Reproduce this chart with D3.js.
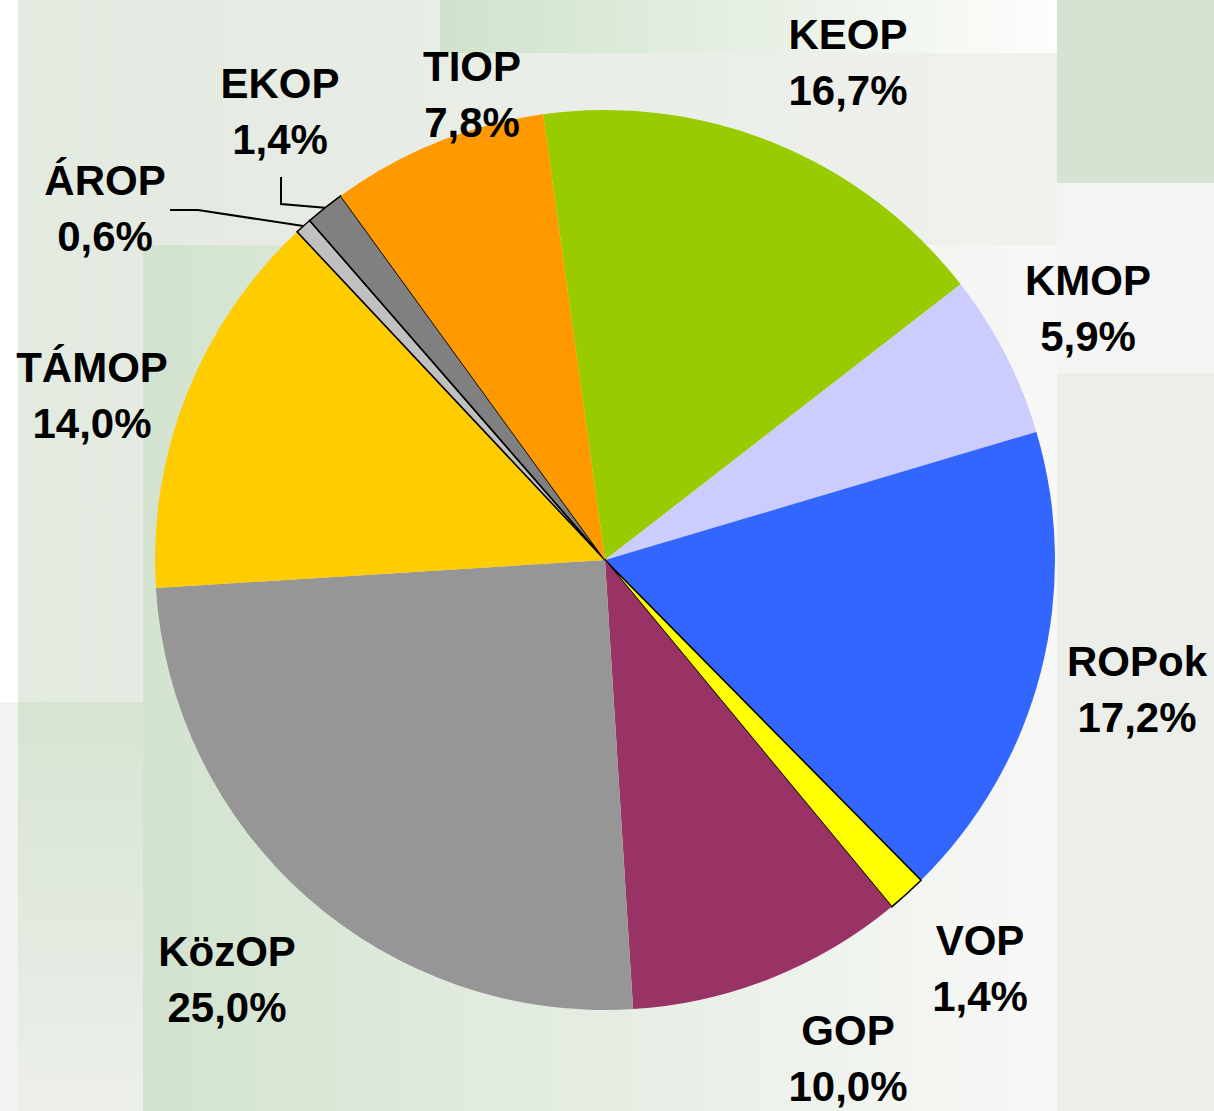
<!DOCTYPE html>
<html>
<head>
<meta charset="utf-8">
<script src="https://cdn.jsdelivr.net/npm/d3@7"></script>
<style>
  body { margin: 0; background: #fff; }
  svg { display: block; }
</style>
</head>
<body>
<div id="chart"></div>
<script>
// data, clockwise from the top
var names = ["KEOP", "KMOP", "ROPok", "VOP", "GOP", "KözOP", "TÁMOP", "ÁROP", "EKOP", "TIOP"];
var shares = [16.7, 5.9, 17.2, 1.4, 10.0, 25.0, 14.0, 0.6, 1.4, 7.8];
var colors = ["#99CC00", "#CCCCFF", "#3366FF", "#FFFF00", "#993366", "#969696", "#FFCC00", "#C0C0C0", "#808080", "#FF9900"];
var outlined = ["VOP", "ÁROP", "EKOP"];

// where the two-line labels sit (centre x, first baseline)
var labelPos = {
    "KEOP": [848, 49], "KMOP": [1088, 295], "ROPok": [1137, 676], "VOP": [980, 955],
    "GOP": [848, 1045], "KözOP": [227, 966], "TÁMOP": [92, 382], "ÁROP": [105, 195],
    "EKOP": [280, 98], "TIOP": [472, 81]
};

var w = 1214, h = 1111;
var cx = 605, cy = 560, r = 450;

var svg = d3.select("#chart").append("svg")
    .attr("width", w)
    .attr("height", h);

var defs = svg.append("defs");
function hgrad(id, c1, c2) {
    var g = defs.append("linearGradient").attr("id", id)
        .attr("x1", "0%").attr("x2", "100%").attr("y1", "0%").attr("y2", "0%");
    g.append("stop").attr("offset", "0%").attr("stop-color", c1);
    g.append("stop").attr("offset", "100%").attr("stop-color", c2);
}
function vgrad(id, c1, c2) {
    var g = defs.append("linearGradient").attr("id", id)
        .attr("x1", "0%").attr("x2", "0%").attr("y1", "0%").attr("y2", "100%");
    g.append("stop").attr("offset", "0%").attr("stop-color", c1);
    g.append("stop").attr("offset", "100%").attr("stop-color", c2);
}
hgrad("gTop", "#E3EAE0", "#EFF1ED");
hgrad("gStrip", "#D0E2CC", "#FDFDFC");
hgrad("gBig", "#D3E3CF", "#F8F8F7");
vgrad("gLeft", "#D6E4D2", "#EDEFEB");

// background blocks
var bg = svg.append("g");
bg.append("rect").attr("width", w).attr("height", h).attr("fill", "#F2F3F0");
bg.append("rect").attr("x", 0).attr("y", 0).attr("width", 18).attr("height", 702).attr("fill", "#FFFFFF");
bg.append("rect").attr("x", 18).attr("y", 0).attr("width", 1039).attr("height", 702).attr("fill", "url(#gTop)");
bg.append("rect").attr("x", 440).attr("y", 0).attr("width", 617).attr("height", 53).attr("fill", "url(#gStrip)");
bg.append("rect").attr("x", 143).attr("y", 245).attr("width", 914).attr("height", 866).attr("fill", "url(#gBig)");
bg.append("rect").attr("x", 18).attr("y", 702).attr("width", 125).attr("height", 409).attr("fill", "url(#gLeft)");
bg.append("rect").attr("x", 1057).attr("y", 0).attr("width", 157).attr("height", 183).attr("fill", "#D6E3D2");
bg.append("rect").attr("x", 1057).attr("y", 183).attr("width", 157).attr("height", 190).attr("fill", "#F4F5F3");
bg.append("rect").attr("x", 1057).attr("y", 373).attr("width", 157).attr("height", 738).attr("fill", "#ECEEEA");

// pie
var rows = names.map(function (n, i) { return { name: n, value: shares[i], color: colors[i] }; });
var start = -7.9 * Math.PI / 180;
var pie = d3.pie()
    .sort(null)
    .value(function (d) { return d.value; })
    .startAngle(start)
    .endAngle(start + 2 * Math.PI);
var arc = d3.arc().innerRadius(0).outerRadius(r);
var arcs = pie(rows);

var g = svg.append("g").attr("transform", "translate(" + cx + "," + cy + ")");
g.selectAll("path")
    .data(arcs)
    .enter()
    .append("path")
    .attr("d", arc)
    .attr("fill", function (d) { return d.data.color; })
    .attr("stroke", function (d) { return outlined.indexOf(d.data.name) >= 0 ? "#000" : "none"; })
    .attr("stroke-width", 1.6)
    .attr("stroke-linejoin", "miter");

// leader lines for the two thin slices
function edgePoint(name) {
    var a = arcs.filter(function (d) { return d.data.name === name; })[0];
    var m = (a.startAngle + a.endAngle) / 2;
    return [cx + r * Math.sin(m), cy - r * Math.cos(m)];
}
var leaders = [
    { name: "EKOP", pts: [[281, 177], [281, 204]] },
    { name: "ÁROP", pts: [[170, 210], [198, 210]] }
];
leaders.forEach(function (l) {
    var p = l.pts.concat([edgePoint(l.name)]);
    svg.append("path")
        .attr("d", d3.line()(p))
        .attr("fill", "none")
        .attr("stroke", "#000")
        .attr("stroke-width", 2);
});

// labels
var lab = svg.append("g")
    .attr("font-family", "'Liberation Sans', Arial, sans-serif")
    .attr("font-weight", "bold")
    .attr("font-size", 42)
    .attr("text-anchor", "middle")
    .attr("fill", "#000");
rows.forEach(function (d) {
    var p = labelPos[d.name];
    var t = lab.append("text").attr("x", p[0]).attr("y", p[1]);
    t.append("tspan").attr("x", p[0]).text(d.name);
    t.append("tspan").attr("x", p[0]).attr("dy", 56)
        .text(d.value.toFixed(1).replace(".", ",") + "%");
});
</script>
</body>
</html>
